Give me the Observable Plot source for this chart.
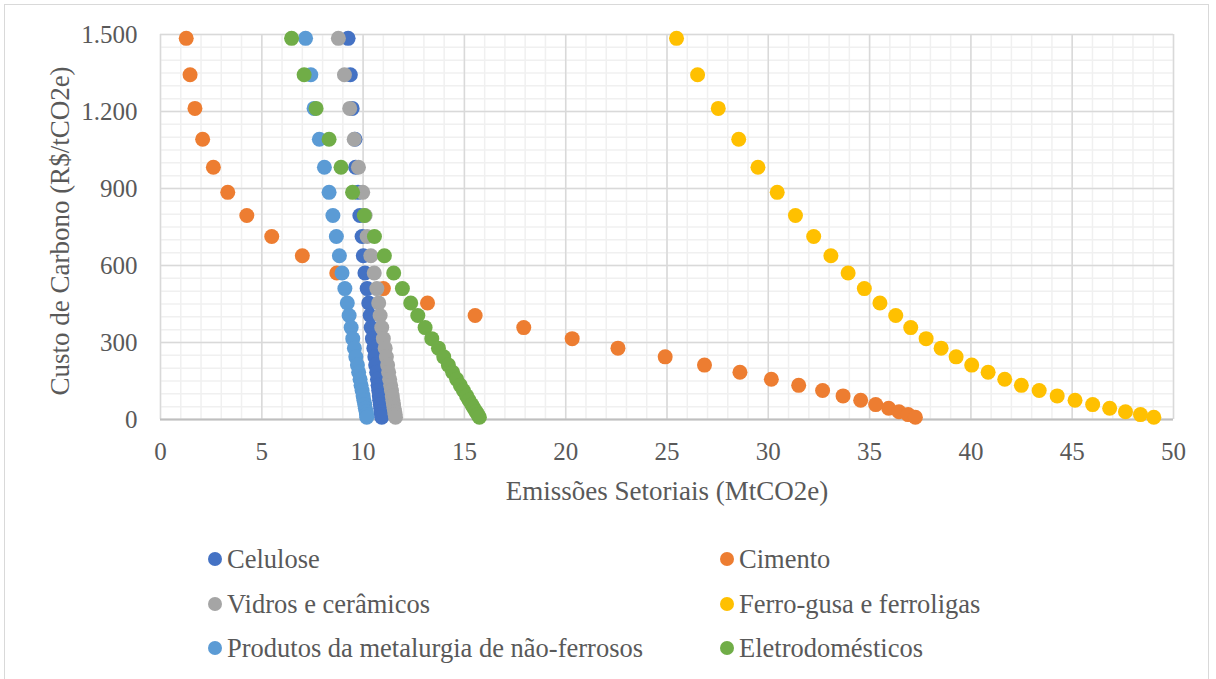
<!DOCTYPE html>
<html>
<head>
<meta charset="utf-8">
<script src="https://cdn.jsdelivr.net/npm/d3@7"></script>
<script src="https://cdn.jsdelivr.net/npm/@observablehq/plot@0.6"></script>
<style>
  html, body { margin: 0; padding: 0; background: #fff; }
  body { width: 1216px; height: 679px; position: relative; overflow: hidden;
         font-family: "Liberation Serif", "Times New Roman", serif; color: #595959; }
  #frame { position: absolute; left: 4px; top: 4px; width: 1205px; height: 700px;
           border: 1.5px solid #d9d9d9; box-sizing: border-box; }
  #chart { position: absolute; left: 0; top: 0; }
  #chart svg text { font-family: "Liberation Serif", "Times New Roman", serif; }
  .item { position: absolute; display: flex; align-items: center; height: 30px;
          line-height: 30px; font-size: 26.5px; white-space: nowrap; }
  .item svg { margin-right: 5px; }
</style>
</head>
<body>
<div id="frame"></div>
<div id="chart"></div>
<div id="legend"></div>
<script>
// ---- Data ----
const series = ["Celulose", "Cimento", "Vidros e cerâmicos", "Ferro-gusa e ferroligas",
                "Produtos da metalurgia de não-ferrosos", "Eletrodomésticos"];
const colors = ["#4472C4", "#ED7D31", "#A5A5A5", "#FFC000", "#5B9BD5", "#70AD47"];

// Carbon cost levels (R$/tCO2e), shared by all series
const custo = [1485, 1343, 1212, 1092, 983, 885, 795, 713, 638, 571, 510, 454, 405, 358, 315,
               278, 244, 212, 184, 157, 133, 113, 92, 75, 58, 44, 30, 19, 9];

// Sectoral emissions (MtCO2e) at each cost level
const celulose = [9.26, 9.37, 9.46, 9.60, 9.63, 9.75, 9.84, 9.95, 10.01, 10.09, 10.20, 10.28, 10.35, 10.40, 10.46,
                  10.53, 10.58, 10.62, 10.67, 10.71, 10.74, 10.77, 10.80, 10.82, 10.85, 10.87, 10.89, 10.91, 10.92];
const cimento = [1.27, 1.46, 1.70, 2.08, 2.61, 3.32, 4.26, 5.49, 7.00, 8.70, 11.00, 13.18, 15.53, 17.93, 20.32,
                 22.58, 24.91, 26.85, 28.60, 30.15, 31.50, 32.68, 33.69, 34.56, 35.30, 35.94, 36.45, 36.90, 37.26];
const vidros = [8.78, 9.08, 9.34, 9.56, 9.77, 9.98, 10.10, 10.20, 10.38, 10.55, 10.68, 10.77, 10.84, 10.92, 11.00,
                11.09, 11.15, 11.21, 11.26, 11.31, 11.36, 11.40, 11.44, 11.47, 11.50, 11.53, 11.56, 11.58, 11.60];
const ferro = [25.47, 26.51, 27.53, 28.54, 29.49, 30.44, 31.34, 32.24, 33.09, 33.94, 34.74, 35.51, 36.29, 37.03, 37.79,
               38.53, 39.27, 40.04, 40.85, 41.67, 42.49, 43.37, 44.26, 45.14, 46.01, 46.85, 47.63, 48.37, 49.03];
const produtos = [7.16, 7.42, 7.58, 7.84, 8.09, 8.32, 8.51, 8.68, 8.83, 8.96, 9.10, 9.22, 9.31, 9.41, 9.49,
                  9.57, 9.64, 9.72, 9.78, 9.85, 9.90, 9.95, 10.00, 10.04, 10.08, 10.11, 10.15, 10.17, 10.18];
const eletro = [6.47, 7.09, 7.68, 8.32, 8.91, 9.48, 10.06, 10.56, 11.05, 11.51, 11.94, 12.35, 12.70, 13.06, 13.39,
                13.72, 13.98, 14.21, 14.42, 14.62, 14.80, 14.95, 15.11, 15.23, 15.36, 15.47, 15.58, 15.66, 15.74];

const xTicks = [0, 5, 10, 15, 20, 25, 30, 35, 40, 45, 50];
const yTicks = [0, 300, 600, 900, 1200, 1500];
const xMinor = d3.range(0, 51, 1);
const yMinor = d3.range(0, 1501, 50);
const xTitle = "Emissões Setoriais (MtCO2e)";
const yTitle = "Custo de Carbono (R$/tCO2e)";

// ---- Build table ----
const values = [celulose, cimento, vidros, ferro, produtos, eletro];
const table = [];
values.forEach((arr, i) => arr.forEach((v, j) => table.push({series: series[i], x: v, y: custo[j]})));

const ptBR = d3.formatLocale({decimal: ",", thousands: ".", grouping: [3], currency: ["R$", ""]});
const fmt = ptBR.format(",d");

const font = "'Liberation Serif', 'Times New Roman', serif";

const plot = Plot.plot({
  width: 1216,
  height: 520,
  marginLeft: 160,
  marginRight: 43,
  marginTop: 34,
  marginBottom: 101,
  style: "font-family: 'Liberation Serif', 'Times New Roman', serif; color: #595959; background: transparent; overflow: visible;",
  x: {domain: [0, 50]},
  y: {domain: [0, 1500]},
  color: {domain: series, range: colors},
  marks: [
    Plot.ruleX(xMinor, {stroke: "#f0f0f0", strokeWidth: 1.5}),
    Plot.ruleY(yMinor, {stroke: "#f0f0f0", strokeWidth: 1.5}),
    Plot.ruleX(xTicks, {stroke: "#d9d9d9", strokeWidth: 1.5}),
    Plot.ruleY(yTicks, {stroke: "#d9d9d9", strokeWidth: 1.5}),
    Plot.ruleY([0], {stroke: "#bfbfbf", strokeWidth: 1.8}),
    Plot.dot(table, {x: "x", y: "y", fill: "series", r: 7.5, stroke: null}),
    Plot.axisX(xTicks, {tickSize: 0, tickPadding: 23, fontSize: 25, label: null, fontFamily: font, fill: "#595959"}),
    Plot.axisY(yTicks, {tickSize: 0, tickPadding: 23, fontSize: 25, label: null, tickFormat: fmt, fontFamily: font, fill: "#595959"}),
    Plot.text([xTitle], {frameAnchor: "bottom", dy: 72, fontSize: 27, lineAnchor: "middle", fontFamily: font, fill: "#595959", text: d => d}),
    Plot.text([yTitle], {frameAnchor: "left", dx: -100, dy: 4, rotate: -90, textAnchor: "middle", fontSize: 27, lineAnchor: "middle", fontFamily: font, fill: "#595959", text: d => d})
  ]
});
plot.setAttribute("font-family", font);
document.getElementById("chart").appendChild(plot);

// ---- Legend (2 columns x 3 rows) ----
const legend = d3.select("#legend");
const colLeft = [208, 720];
series.forEach((name, i) => {
  const col = i % 2, row = Math.floor(i / 2);
  const item = legend.append("div").attr("class", "item")
    .style("left", colLeft[col] + "px")
    .style("top", (544.4 + row * 44.5) + "px");
  const sw = item.append("svg").attr("width", 14).attr("height", 14);
  sw.append("circle").attr("cx", 7).attr("cy", 7).attr("r", 7).attr("fill", colors[i]);
  item.append("span").text(name);
});
</script>
</body>
</html>
